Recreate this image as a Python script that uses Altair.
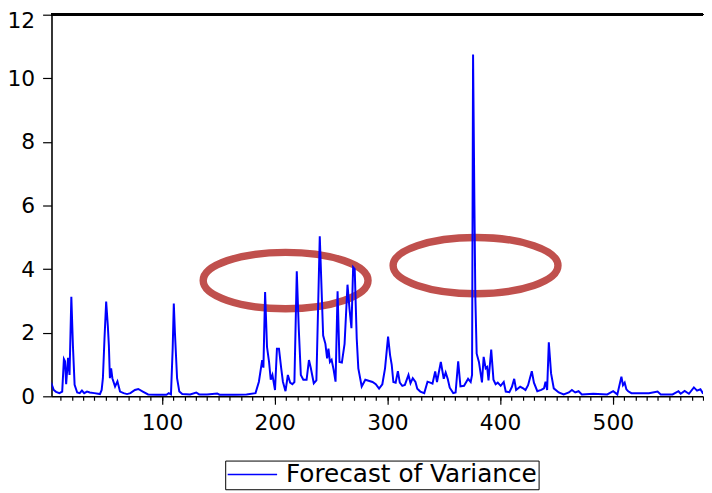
import altair as alt
import pandas as pd

# ---- data ----
series_name = "Forecast of Variance"

obs = [1, 2, 4, 6, 9, 11.5, 13, 14, 15, 16.7, 18, 19.6, 21, 22.5, 24.8, 27, 29, 31, 33.5, 36, 40, 45,
       46.5, 47.6, 49, 50.5, 52, 52.9, 53.8, 54.9, 56, 58.4, 60.5, 62.8, 66, 69, 72, 76, 79, 83, 87.7,
       95, 104, 106, 108, 109.5, 110.5, 111.5, 113.4, 115.4, 118, 125, 130.4, 133, 140, 149, 151, 165,
       175, 183, 186, 188.9, 190, 191.5, 193.2, 195, 196.5, 198, 200.3, 202, 203.8, 205.8, 207.3, 209.6,
       211.7, 213.7, 215.7, 217.5, 219.6, 221.4, 223.2, 225.4, 228.3, 230.4, 232, 234.7, 237, 240, 243,
       245, 246.5, 247.7, 249, 250.5, 252.3, 254, 255.8, 257.5, 259.6, 262, 264.6, 266.4, 268.1, 269.6,
       271, 272.8, 274.2, 277.2, 280.4, 284, 286.8, 289.7, 292.6, 295.5, 297.9, 300.6, 302.4, 303.8,
       305.3, 307.3, 309.3, 311, 313.2, 315.5, 318.7, 320.5, 322.5, 324.9, 326.5, 329.2, 332.7, 335.6,
       338, 340, 342.4, 344, 347.4, 350, 351.7, 353.5, 355.3, 358.4, 360.5, 362.8, 364.8, 368, 371.6,
       373.9, 375.1, 376, 377.2, 378, 379.2, 381.2, 383.9, 385.4, 387.2, 388.5, 389.7, 392.1, 394.1, 396,
       397.9, 400.5, 403.2, 405, 408.2, 410.5, 412.5, 414.2, 417.8, 420.5, 422.5, 424.8, 428.1, 430, 433,
       436.5, 438.9, 440.3, 441.7, 443.2, 445.2, 447.6, 452, 456.4, 461, 463.7, 466.6, 469.6, 472.5,
       482.7, 495, 500.3, 504, 507.6, 509, 510.5, 512, 513.6, 516.5, 526.6, 532, 539.7, 542.5, 553,
       558.2, 560.2, 563.7, 567.5, 571.9, 574.7, 577.7, 579.8, 582]

variance = [0.45, 0.4, 0.2, 0.14, 0.1, 0.15, 1.17, 1.1, 0.38, 1.21, 0.67, 3.13, 1.6, 0.36, 0.12, 0.1,
            0.18, 0.1, 0.15, 0.12, 0.1, 0.07,
            0.2, 0.57, 1.8, 2.98, 2.2, 1.6, 0.57, 0.88, 0.57, 0.31, 0.47, 0.15, 0.1, 0.07, 0.1, 0.2, 0.23,
            0.15, 0.06,
            0.05, 0.05, 0.1, 0.06, 1.5, 2.92, 2.0, 0.57, 0.15, 0.07, 0.06, 0.12, 0.06, 0.06, 0.09, 0.05,
            0.05,
            0.06, 0.1, 0.46, 1.14, 0.9, 3.28, 1.55, 1.08, 0.52, 0.67, 0.2, 1.5, 1.5, 0.88, 0.46, 0.16,
            0.67, 0.43, 0.38, 0.45, 3.93, 2.1, 0.67, 0.52, 0.52, 1.14, 0.9, 0.41, 0.5, 5.03, 1.91,
            1.65, 1.19, 1.5, 1.08, 1.15, 0.83, 0.46, 3.3, 1.08, 1.06, 1.65, 3.51, 2.74, 2.14, 4.06,
            4.0, 1.81, 0.88, 0.31, 0.52, 0.48, 0.45, 0.38, 0.24, 0.38, 0.88, 1.88, 1.29, 1.0,
            0.45, 0.43, 0.79, 0.43, 0.33, 0.36, 0.67, 0.41, 0.57, 0.45, 0.24, 0.15, 0.1, 0.46,
            0.43, 0.4, 0.78, 0.45, 1.08, 0.55, 0.75, 0.55, 0.27, 0.1, 0.12, 1.1, 0.31, 0.33, 0.55,
            0.45, 0.67, 10.75, 6.0, 3.15, 1.34, 1.08, 0.44, 1.24, 0.88, 0.92, 0.5, 1.47, 0.52, 0.38,
            0.43, 0.33, 0.45, 0.15, 0.13, 0.3, 0.55, 0.2, 0.3, 0.25, 0.2, 0.35, 0.79, 0.43, 0.16,
            0.2, 0.25, 0.46, 0.2, 1.7, 0.72, 0.25, 0.12, 0.06, 0.12, 0.2, 0.12, 0.16, 0.06,
            0.08, 0.06, 0.16, 0.06, 0.62, 0.35, 0.43, 0.22, 0.16, 0.1, 0.1, 0.1, 0.15, 0.06, 0.06,
            0.16, 0.08, 0.17, 0.08, 0.28, 0.18, 0.22, 0.1, 0.08]

# annotation ellipses (centres in data units)
ellipse_x = [209.7, 378.2]
ellipse_y = [3.64, 4.11]

x_major = [100, 200, 300, 400, 500]
x_minor = list(range(10, 590, 10))
y_ticks = [0, 2, 4, 6, 8, 10, 12]

df = pd.DataFrame({"obs": obs, "variance": variance, "series": series_name})
ell = pd.DataFrame({"ex": ellipse_x, "ey": ellipse_y})

FONT = "DejaVu Sans"
x_scale = alt.Scale(domain=[2, 580], nice=False, zero=False)
y_scale = alt.Scale(domain=[0, 12], nice=False, zero=False)

y_axis = alt.Axis(values=y_ticks, tickSize=9, labelPadding=8,
                  labelFont=FONT, labelFontSize=22, labelColor="black",
                  labelOffset={"condition": {"test": "datum.value == 12", "value": 6}, "value": 0},
                  domainColor="black", domainWidth=1.6, tickColor="black", tickWidth=1.2,
                  grid=False, title=None, labelFlush=False, labelOverlap=False)

ellipse_path = ("M 1 0 C 1 0.1889 0.5523 0.342 0 0.342 C -0.5523 0.342 -1 0.1889 -1 0 "
                "C -1 -0.1889 -0.5523 -0.342 0 -0.342 C 0.5523 -0.342 1 -0.1889 1 0 Z")

ellipses = alt.Chart(ell).mark_point(
    filled=False, shape=ellipse_path, size=27800, strokeWidth=7.5,
    color="#C0504D", opacity=1
).encode(
    x=alt.X("ex:Q", scale=x_scale,
            axis=alt.Axis(orient="bottom", values=x_minor, labels=False, tickSize=4,
                          domain=False, grid=False, title=None, tickColor="black", tickWidth=1.2)),
    y=alt.Y("ey:Q", scale=y_scale, axis=y_axis),
)

line = alt.Chart(df).mark_line(strokeWidth=2, clip=True).encode(
    x=alt.X("obs:Q", scale=x_scale,
            axis=alt.Axis(orient="bottom", values=x_major, tickSize=8, labelPadding=9,
                          labelFont=FONT, labelFontSize=22, labelColor="black",
                          domainColor="black", domainWidth=1.6, tickColor="black", tickWidth=1.2,
                          grid=False, title=None, labelFlush=False, labelOverlap=False)),
    y=alt.Y("variance:Q", scale=y_scale, axis=y_axis),
    color=alt.Color("series:N",
                    scale=alt.Scale(domain=[series_name], range=["#0000ff"]),
                    legend=alt.Legend(orient="none", legendX=175.7, legendY=451, title=None,
                                      strokeColor="black", fillColor="white", padding=1.5,
                                      symbolType="stroke", symbolSize=2500, symbolStrokeWidth=1.5,
                                      clipHeight=25, labelFont=FONT, labelFontSize=25,
                                      labelLimit=500, labelOffset=8, labelColor="black",
                                      symbolOffset=0)),
)

top_border = alt.Chart(df).mark_rule(color="black", strokeWidth=2).encode(
    y=alt.datum(12, scale=y_scale)
)

chart = alt.layer(ellipses, line, top_border).resolve_axis(x="independent").properties(
    width=659, height=386,
    autosize=alt.AutoSizeParams(type="none"),
    padding={"left": 44, "top": 4, "right": 1, "bottom": 94},
).configure_view(stroke=None)

chart.save("out.html", embed_options={"renderer": "svg", "actions": False})
